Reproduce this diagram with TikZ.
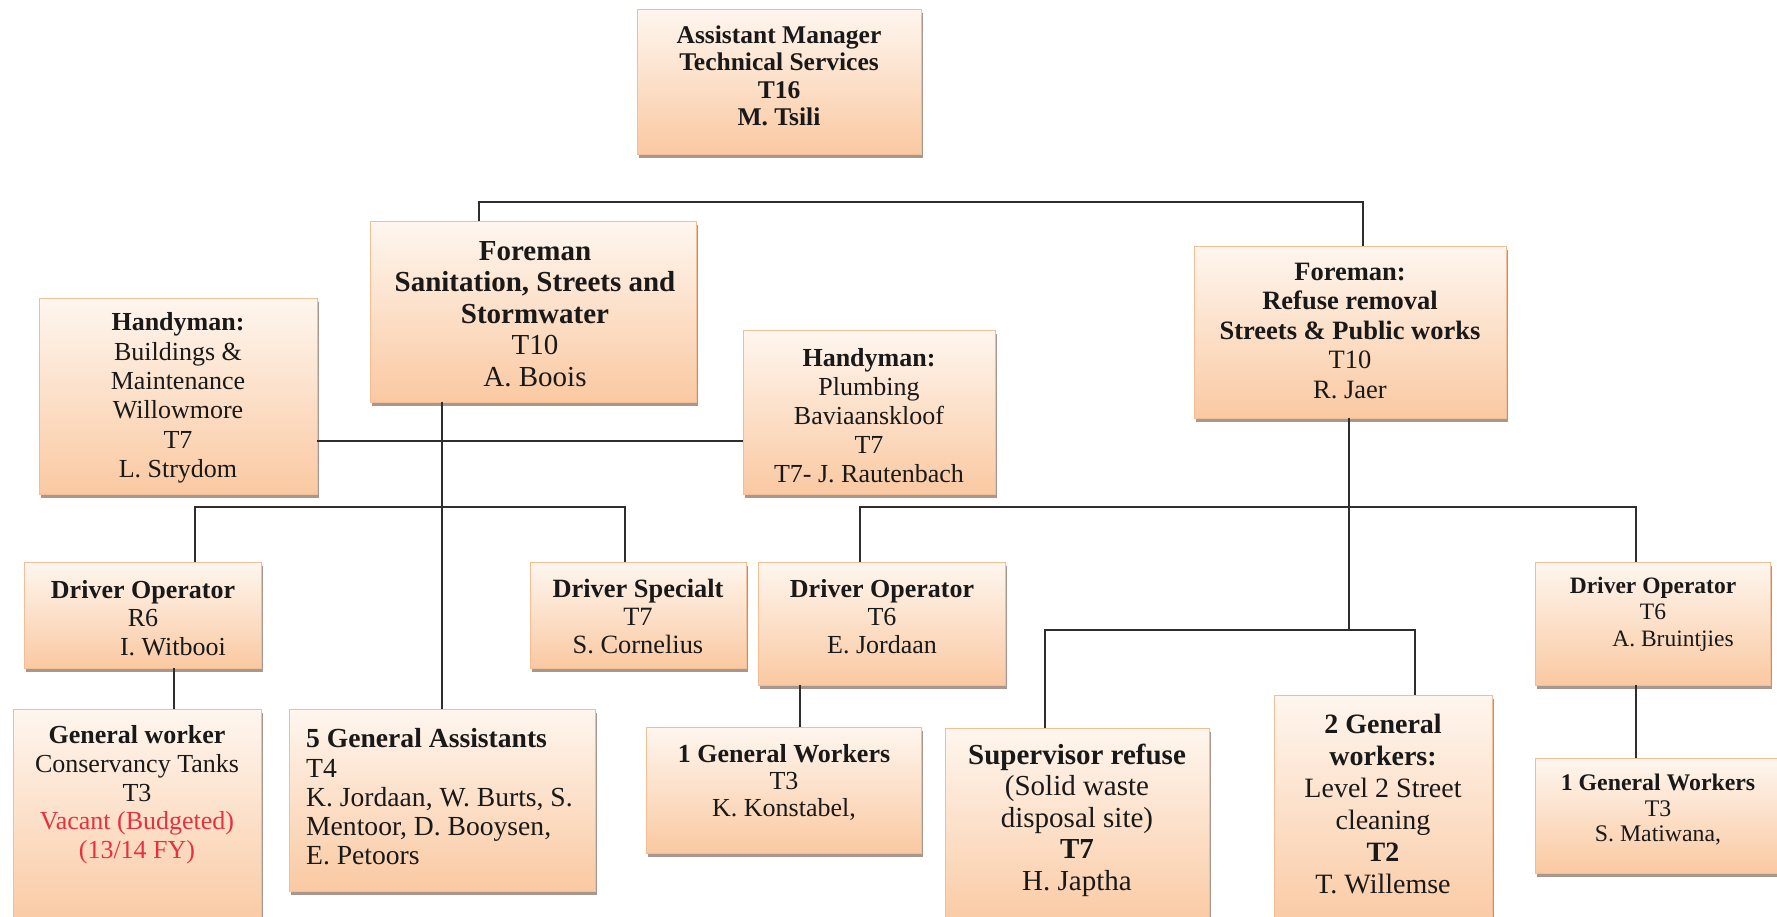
\documentclass[tikz,border=0pt]{standalone}
\usepackage{fontspec}
\setmainfont{Liberation Serif}
\usetikzlibrary{shadows}
\definecolor{peachtop}{HTML}{FEF6EF}
\definecolor{peachbot}{HTML}{FAC9A2}
\definecolor{peachedge}{HTML}{F3BE96}
\definecolor{shadowgrey}{HTML}{8A7468}
\definecolor{linkgrey}{HTML}{2E2E2E}
\definecolor{vacantred}{HTML}{E5323E}
\newcommand{\orgfont}[2]{\fontsize{#1}{#2}\selectfont}

\begin{document}
\begin{tikzpicture}[x=1pt,y=-1pt,
  orgbox/.style={rectangle, draw=peachedge, line width=0.8pt,
    top color=peachtop, bottom color=peachbot, inner sep=0pt,
    drop shadow={shadow xshift=1.5pt, shadow yshift=-4pt, fill=shadowgrey, opacity=0.75}},
  orgtext/.style={align=center, inner sep=0pt, text=black!90},
  link/.style={draw=linkgrey, line width=1.8pt}]

\useasboundingbox (0,0) rectangle (1777,916);

% ---- boxes ----
\node[orgbox, minimum width=284pt, minimum height=145pt] (top) at (779,81.5) {};
\node[orgbox, minimum width=326pt, minimum height=181pt] (fs)  at (533,311.5) {};
\node[orgbox, minimum width=312pt, minimum height=172pt] (fr)  at (1350,332) {};
\node[orgbox, minimum width=278pt, minimum height=196pt] (hl)  at (178,396) {};
\node[orgbox, minimum width=252pt, minimum height=164pt] (hp)  at (869,412) {};
\node[orgbox, minimum width=237pt, minimum height=106pt] (dl)  at (142.5,615) {};
\node[orgbox, minimum width=216pt, minimum height=106pt] (ds)  at (638,615) {};
\node[orgbox, minimum width=247pt, minimum height=123pt] (dj)  at (881.5,623.5) {};
\node[orgbox, minimum width=235pt, minimum height=123pt] (dr)  at (1652.5,623.5) {};
\node[orgbox, minimum width=248pt, minimum height=221pt] (gw)  at (137,819.5) {};
\node[orgbox, minimum width=306pt, minimum height=182pt] (ga)  at (442,800) {};
\node[orgbox, minimum width=275pt, minimum height=126pt] (gk)  at (783.5,790) {};
\node[orgbox, minimum width=264pt, minimum height=202pt] (sr)  at (1077,829) {};
\node[orgbox, minimum width=218pt, minimum height=235pt] (g2)  at (1383,812.5) {};
\node[orgbox, minimum width=250pt, minimum height=115pt] (gm)  at (1660,815.5) {};

% ---- texts ----
\node[orgtext, font=\orgfont{25.5}{27.5}\bfseries] (t-top) at (779,76)
  {Assistant Manager\\ Technical Services\\ T16\\ M. Tsili};
\node[orgtext, font=\orgfont{29}{31.5}] (t-fs) at (535,314)
  {\textbf{Foreman}\\ \textbf{Sanitation, Streets and}\\ \textbf{Stormwater}\\ T10\\ A. Boois};
\node[orgtext, font=\orgfont{26.5}{29.5}] (t-fr) at (1350,331)
  {\textbf{Foreman:}\\ \textbf{Refuse removal}\\ \textbf{Streets \& Public works}\\ T10\\ R. Jaer};
\node[orgtext, font=\orgfont{26}{29.4}] (t-hl) at (178,398)
  {\textbf{Handyman:}\\ Buildings \&\\ Maintenance\\ Willowmore\\ T7\\ L. Strydom};
\node[orgtext, font=\orgfont{26}{29}] (t-hp) at (869,416)
  {\textbf{Handyman:}\\ Plumbing\\ Baviaanskloof\\ T7\\ T7- J. Rautenbach};
\node[orgtext, font=\orgfont{26}{28.5}] (t-dl) at (143,618)
  {\textbf{Driver Operator}\\ R6\\ \hspace*{60pt}I. Witbooi};
\node[orgtext, font=\orgfont{26.4}{28}] (t-ds) at (638,617)
  {\textbf{Driver Specialt}\\ T7\\ S. Cornelius};
\node[orgtext, font=\orgfont{26}{28}] (t-dj) at (882,617)
  {\textbf{Driver Operator}\\ T6\\ E. Jordaan};
\node[orgtext, font=\orgfont{23.5}{26.5}] (t-dr) at (1653,614)
  {\textbf{Driver Operator}\\ T6\\ \hspace*{40pt}A. Bruintjies};
\node[orgtext, font=\orgfont{26}{28.7}] (t-gw) at (137,795)
  {\textbf{General worker}\\ Conservancy Tanks\\ T3\\
   {\color{vacantred}Vacant (Budgeted)}\\ {\color{vacantred}(13/14 FY)}};
\node[orgtext, align=left, anchor=west, font=\orgfont{27.6}{29.2}] (t-ga) at (306,797)
  {\textbf{5 General Assistants}\\ T4\\ K. Jordaan, W. Burts, S.\\ Mentoor, D. Booysen,\\ E. Petoors};
\node[orgtext, font=\orgfont{26}{27}] (t-gk) at (784,782)
  {\textbf{1 General Workers}\\ T3\\ K. Konstabel,};
\node[orgtext, font=\orgfont{29}{31.5}] (t-sr) at (1077,820)
  {\textbf{Supervisor refuse}\\ (Solid waste\\ disposal site)\\ \textbf{T7}\\ H. Japtha};
\node[orgtext, font=\orgfont{28}{32}] (t-g2) at (1383,804)
  {\textbf{2 General}\\ \textbf{workers:}\\ Level 2 Street\\ cleaning\\ \textbf{T2}\\ T. Willemse};
\node[orgtext, font=\orgfont{23.8}{25.5}] (t-gm) at (1658,810)
  {\textbf{1 General Workers}\\ T3\\ S. Matiwana,};

% ---- connectors ----
% the two foremen
\coordinate (topL) at (479,202);
\coordinate (topR) at (1363,202);
\draw[link] (topL |- fs.north) -- (topL) -- (topR) -- (topR |- fr.north);

% the two handymen
\coordinate (hy) at (0,441);
\draw[link] (hl.east |- hy) -- (hp.west |- hy);

% sanitation foreman down to the general assistants
\draw[link] (ga.north |- fs.south) -- (ga.north);

% sanitation drivers
\coordinate (lbL) at (195,507);
\coordinate (lbR) at (625,507);
\draw[link] (lbL |- dl.north) -- (lbL) -- (lbR) -- (lbR |- ds.north);

% refuse drivers
\coordinate (rbL) at (860,507);
\coordinate (rbR) at (1636,507);
\draw[link] (rbL |- dj.north) -- (rbL) -- (rbR) -- (rbR |- dr.north);

% refuse foreman down to supervisor and street cleaners
\coordinate (sbM) at (1349,630);
\coordinate (sbL) at (1045,630);
\coordinate (sbR) at (1415,630);
\draw[link] (sbM |- fr.south) -- (sbM);
\draw[link] (sbL |- sr.north) -- (sbL) -- (sbR) -- (sbR |- g2.north);

% drivers to their workers
\coordinate (dlx) at (174,0);
\coordinate (djx) at (800,0);
\draw[link] (dlx |- dl.south) -- (dlx |- gw.north);
\draw[link] (djx |- dj.south) -- (djx |- gk.north);
\draw[link] (rbR |- dr.south) -- (rbR |- gm.north);

\end{tikzpicture}
\end{document}
